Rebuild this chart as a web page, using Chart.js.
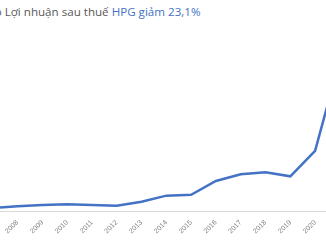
<!DOCTYPE html>
<html>
<head>
<meta charset="utf-8">
<script src="https://cdn.jsdelivr.net/npm/chart.js@4"></script>
<style>
  html, body { margin: 0; padding: 0; background: #fff; }
  #frame { position: relative; width: 326px; height: 245px; overflow: hidden; background: #fff; }
  #title {
    position: absolute; top: 6px; right: 125.5px; white-space: nowrap;
    font-family: 'Open Sans', sans-serif; font-size: 11.6px; line-height: 1;
    color: #595959;
  }
  #title .hl { color: #4472c4; }
  #chartBox { position: absolute; left: -40px; top: 0; }
</style>
</head>
<body>
<div id="frame">
  <div id="title">Biểu đồ Lợi nhuận sau thuế <span class="hl">HPG giảm 23,1%</span></div>
  <div id="chartBox"><canvas id="profitChart" width="400" height="245"></canvas></div>
</div>
<script>
// Net profit after tax, billion VND
const years = ['2007', '2008', '2009', '2010', '2011', '2012', '2013', '2014',
               '2015', '2016', '2017', '2018', '2019', '2020', '2021'];
const profit = [650, 1050, 1350, 1500, 1350, 1200, 2100, 3450,
                3650, 6750, 8250, 8700, 7800, 13500, 34000];

const LINE_COLOR = '#4472c4';
const TICK_STYLE = {
  color: '#7f7f7f',
  font: { family: "'Liberation Sans'", size: 7 },
};

const ctx = document.getElementById('profitChart').getContext('2d');
const profitChart = new Chart(ctx, {
  type: 'line',
  data: {
    labels: years,
    datasets: [{
      data: profit,
      borderColor: LINE_COLOR,
      borderWidth: 2.5,
      pointRadius: 0,
      fill: false,
      tension: 0,
    }],
  },
  options: {
    responsive: false,
    animation: false,
    layout: { padding: { left: 32.7, right: 20.1, top: 33, bottom: 0 } },
    plugins: { legend: { display: false }, tooltip: { enabled: false } },
    scales: {
      x: {
        offset: false,
        grid: { display: false, drawTicks: false },
        border: { display: true, color: '#d9d9d9', width: 1 },
        ticks: { ...TICK_STYLE, minRotation: 45, maxRotation: 45, padding: 7.5, autoSkip: false },
        afterFit: scale => { scale.height = 34; },
      },
      y: {
        display: false,
        min: 0,
        max: 40000,
      },
    },
  },
});
</script>
</body>
</html>
